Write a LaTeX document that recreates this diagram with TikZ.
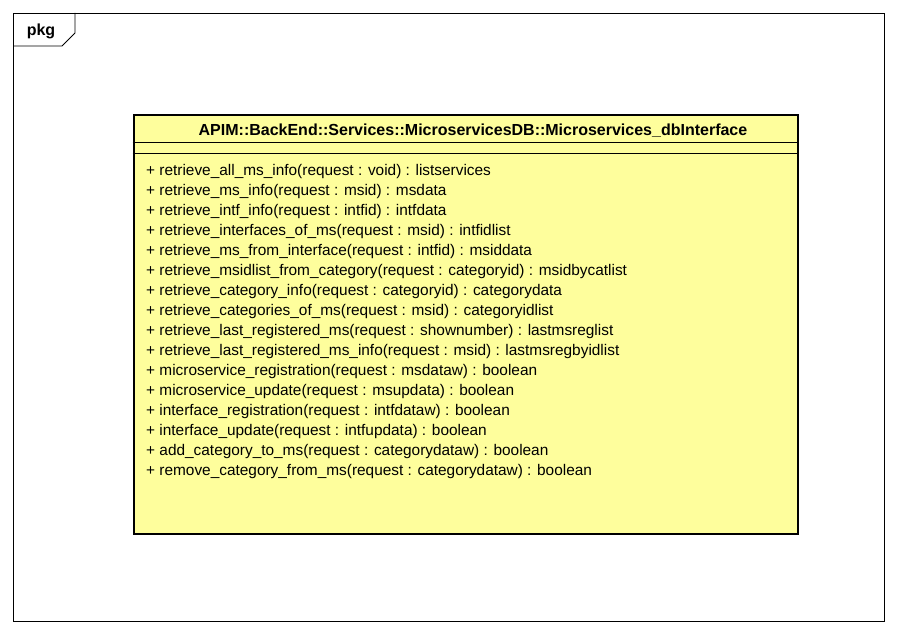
\documentclass[tikz,border=0pt]{standalone}
\usepackage{fontspec}
\setmainfont{Liberation Sans}
\usetikzlibrary{positioning}
\definecolor{classfill}{RGB}{254,254,156}
\begin{document}
\begin{tikzpicture}[x=1pt,y=-1pt,
  member/.style={anchor=west,inner sep=0pt,font=\fontsize{15.4}{15.4}\selectfont},
  title/.style={inner sep=0pt,font=\bfseries\fontsize{16}{16}\selectfont}]
\useasboundingbox (0,0) rectangle (897,634);

% package frame
\node(frame) at (13,13)[anchor=north west,draw,line width=0.8pt,
  minimum width=871pt,minimum height=608pt,inner sep=0pt]{};
\coordinate(tabtop) at (75,13);
\coordinate(tabcut) at (75,33);
\coordinate(tabfoot) at (62,46);
\coordinate(tableft) at (13,46);
\draw[line width=0.8pt] (tabtop) -- (tabcut) -- (tabfoot) -- (tableft);
\node(pkg) at (41,31)[title]{pkg};

% class box
\node(class) at (132.5,113.5)[anchor=north west,draw,fill=classfill,line width=2.8pt,
  minimum width=664pt,minimum height=419pt,inner sep=0pt]{};
\node(name) at (473,131)[title]{APIM::BackEnd::Services::MicroservicesDB::Microservices\_dbInterface};
\draw[line width=0.8pt] (class.west |- 0,142) -- (class.east |- 0,142);
\draw[line width=0.8pt] (class.west |- 0,153) -- (class.east |- 0,153);

% operations
\foreach \op [count=\i from 0] in {
  {retrieve\_all\_ms\_info(request : void) : listservices},
  {retrieve\_ms\_info(request : msid) : msdata},
  {retrieve\_intf\_info(request : intfid) : intfdata},
  {retrieve\_interfaces\_of\_ms(request : msid) : intfidlist},
  {retrieve\_ms\_from\_interface(request : intfid) : msiddata},
  {retrieve\_msidlist\_from\_category(request : categoryid) : msidbycatlist},
  {retrieve\_category\_info(request : categoryid) : categorydata},
  {retrieve\_categories\_of\_ms(request : msid) : categoryidlist},
  {retrieve\_last\_registered\_ms(request : shownumber) : lastmsreglist},
  {retrieve\_last\_registered\_ms\_info(request : msid) : lastmsregbyidlist},
  {microservice\_registration(request : msdataw) : boolean},
  {microservice\_update(request : msupdata) : boolean},
  {interface\_registration(request : intfdataw) : boolean},
  {interface\_update(request : intfupdata) : boolean},
  {add\_category\_to\_ms(request : categorydataw) : boolean},
  {remove\_category\_from\_ms(request : categorydataw) : boolean}}
  \node(op\i) at (146,172+20*\i)[member]{+ \op};

\end{tikzpicture}
\end{document}
